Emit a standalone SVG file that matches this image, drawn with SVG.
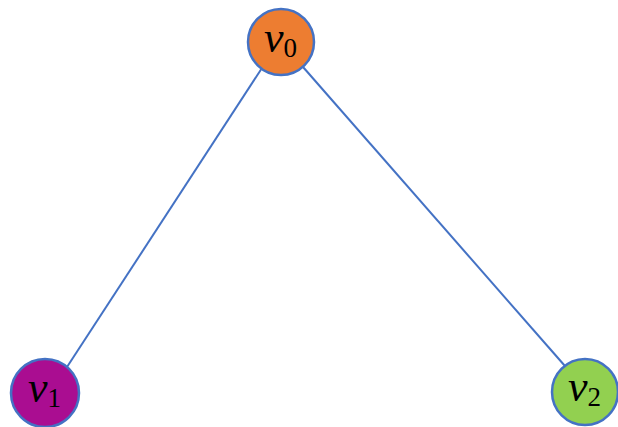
<svg xmlns="http://www.w3.org/2000/svg" width="618" height="427" viewBox="0 0 618 427">
<style>
.n{stroke:#4472C4;stroke-width:2.5}
.e{stroke:#4472C4;stroke-width:2;fill:none}
.t{font-family:"Liberation Serif","DejaVu Serif",serif;fill:#000}
.v{font-style:italic;font-size:44px}
.s{font-size:27px}
</style>
<rect width="618" height="427" fill="#fff"/>
<g id="edges">
<line class="e" x1="262" y1="68" x2="67" y2="367"/>
<line class="e" x1="303" y1="67" x2="565" y2="366"/>
</g>
<g id="v0">
<circle class="n" cx="281" cy="42" r="33" fill="#ED7D31"/>
<text class="t" x="264" y="52"><tspan class="v">v</tspan><tspan class="s" dy="5">0</tspan></text>
</g>
<g id="v1">
<circle class="n" cx="45" cy="393" r="34" fill="#AA0D91"/>
<text class="t" x="28" y="402"><tspan class="v">v</tspan><tspan class="s" dy="5">1</tspan></text>
</g>
<g id="v2">
<circle class="n" cx="585" cy="392" r="33" fill="#92D050"/>
<text class="t" x="568" y="401"><tspan class="v">v</tspan><tspan class="s" dy="5">2</tspan></text>
</g>
</svg>
